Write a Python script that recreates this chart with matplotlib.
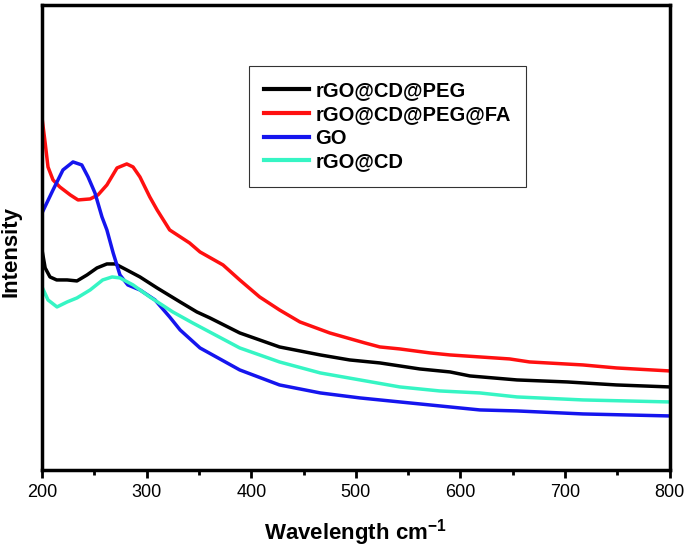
import matplotlib.pyplot as plt

plt.rcParams['font.family'] = ['Liberation Sans', 'DejaVu Sans']
plt.rcParams['mathtext.fontset'] = 'custom'
plt.rcParams['mathtext.rm'] = 'Liberation Sans'
plt.rcParams['mathtext.bf'] = 'Liberation Sans:bold'

# UV-vis spectra, intensity in arbitrary units
wl_peg = [200, 203, 207.6, 214, 224, 233.4, 243, 252.5, 262, 270, 281, 293.6, 310,
          332, 348, 360.5, 389, 427, 466, 494, 523, 561, 590, 609, 654, 702, 749, 800]
int_peg = [2.20, 2.02, 1.93, 1.90, 1.90, 1.89, 1.95, 2.02, 2.06, 2.06, 2.00, 1.93, 1.82,
           1.68, 1.58, 1.52, 1.37, 1.23, 1.15, 1.10, 1.07, 1.01, 0.98, 0.94, 0.90, 0.88,
           0.85, 0.83]

wl_fa = [200, 203, 205.7, 210.5, 217, 227, 234.4, 246, 253.5, 262, 271.7, 281, 287,
         293.6, 303, 310, 322, 341, 351, 373, 389, 408, 427, 446.5, 475, 508.6, 522.9,
         542, 571, 590, 618.5, 647, 666, 717, 749, 800]
int_fa = [3.52, 3.27, 3.03, 2.90, 2.83, 2.75, 2.70, 2.71, 2.75, 2.85, 3.02, 3.06, 3.03,
          2.93, 2.73, 2.60, 2.40, 2.27, 2.18, 2.05, 1.90, 1.73, 1.60, 1.48, 1.37, 1.27,
          1.23, 1.21, 1.17, 1.15, 1.13, 1.11, 1.08, 1.05, 1.02, 0.99]

wl_go = [200, 210.5, 220, 229.6, 238, 244, 250.6, 257.3, 262, 268, 274.5, 282, 293.6,
         308, 322, 332, 351, 389, 427, 466, 504, 542, 618.5, 654, 717, 800]
int_go = [2.57, 2.80, 3.00, 3.08, 3.05, 2.93, 2.77, 2.53, 2.40, 2.17, 1.95, 1.85, 1.80,
          1.70, 1.53, 1.40, 1.22, 1.00, 0.85, 0.77, 0.72, 0.68, 0.60, 0.59, 0.56, 0.54]

wl_cd = [200, 205.7, 214.3, 224, 233.4, 246, 258, 267, 274.5, 287, 303, 325, 344,
         389, 427, 466, 504, 542, 580, 618.5, 654, 717, 800]
int_cd = [1.83, 1.70, 1.63, 1.68, 1.72, 1.80, 1.90, 1.93, 1.92, 1.85, 1.73, 1.58, 1.47,
          1.22, 1.08, 0.97, 0.90, 0.83, 0.79, 0.77, 0.73, 0.70, 0.68]

fig = plt.figure(figsize=(6.89, 5.49), dpi=100)
ax = fig.add_axes([0.061, 0.144, 0.911, 0.847])

ax.plot(wl_peg, int_peg, color='black', lw=2.5, label='rGO@CD@PEG')
ax.plot(wl_fa, int_fa, color='#ff1010', lw=2.5, label='rGO@CD@PEG@FA')
ax.plot(wl_go, int_go, color='#1515ee', lw=2.5, label='GO')
ax.plot(wl_cd, int_cd, color='#36f5c4', lw=2.5, label='rGO@CD')

ax.set_xlim(200, 800)
ax.set_ylim(0, 4.65)
ax.set_xticks(range(200, 801, 100))
ax.set_xticks(range(250, 800, 100), minor=True)
ax.set_yticks([])
ax.tick_params(axis='x', which='major', direction='out', length=6, width=2,
               labelsize=13, pad=4)
ax.tick_params(axis='x', which='minor', direction='out', length=3.5, width=2)
for s in ax.spines.values():
    s.set_linewidth(2.5)

ax.set_xlabel(r'Wavelength cm$^{\mathbf{-1}}$', fontsize=16, fontweight='bold', labelpad=12)
ax.set_ylabel('Intensity', fontsize=16, fontweight='bold')
ax.yaxis.set_label_coords(-0.032, 0.469)

leg = ax.legend(loc='upper left', bbox_to_anchor=(0.3296, 0.869), borderaxespad=0,
                prop={'weight': 'bold', 'size': 14.5}, fancybox=False,
                edgecolor='black', handlelength=2.25, labelspacing=0.24,
                borderpad=0.75, handletextpad=0.3)
leg.get_frame().set_linewidth(0.8)
for line in leg.get_lines():
    line.set_linewidth(3)

fig.savefig('out.png', dpi=100)
